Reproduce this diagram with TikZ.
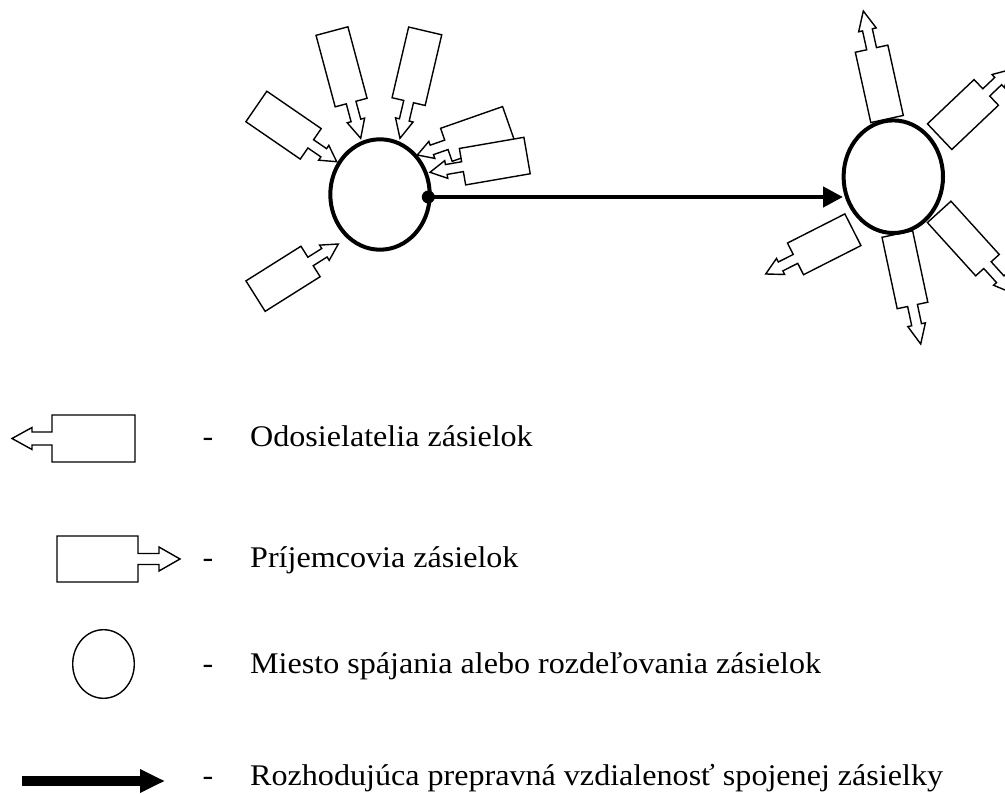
\documentclass[tikz,border=0pt]{standalone}
\usepackage{fontspec}
\setmainfont[FakeStretch=1.07]{Liberation Serif}
\usetikzlibrary{shapes.geometric,arrows.meta}

\tikzset{
  parcel/.style={draw=black, fill=white, line width=1.4pt, line join=miter},
  hub/.style={draw=black, fill=white, ellipse, inner sep=0pt, line width=4pt},
  legendhub/.style={draw=black, fill=white, ellipse, inner sep=0pt, line width=1.4pt},
  flow/.style={line width=4.5pt, -{Triangle[length=20pt,width=20pt]}},
  legendflow/.style={line width=10pt, -{Triangle[length=25pt,width=22pt]}},
  itemtext/.style={font=\fontsize{30}{36}\selectfont, anchor=base west, inner sep=0pt},
  hyphenmark/.style={font=\fontsize{30}{36}\selectfont, anchor=base, inner sep=0pt}
}

% \parcel{tip x}{tip y}{angle}{stub length}{box length}{box width}{head half-width}{shaft half-width}
\newcommand\parcel[8]{%
  \begin{scope}[shift={(#1,#2)}, rotate=#3]
    \draw[parcel] (0,0) -- (-#4/2,#7) -- (-#4/2,#8) -- (-#4,#8) -- (-#4,#6/2)
      -- (-#4-#5,#6/2) -- (-#4-#5,-#6/2) -- (-#4,-#6/2) -- (-#4,-#8)
      -- (-#4/2,-#8) -- (-#4/2,-#7) -- cycle;
  \end{scope}}

\begin{document}
\begin{tikzpicture}[x=1pt, y=-1pt]
  \useasboundingbox (0,0) rectangle (1005,794);
  \clip (0,0) rectangle (1005,794);

  % incoming parcels around the collecting hub
  \parcel{336.7}{161.7}{-34.5}{31.5}{66}{37}{9}{5}
  \parcel{360.7}{138.3}{-75}{37}{74}{33}{9}{5}
  \parcel{400}{138.3}{-103.2}{37.7}{72.6}{34}{9}{5}
  \parcel{417.3}{155}{-160.7}{30.8}{65.7}{35}{9}{5}
  \parcel{430}{172.3}{-170.2}{33}{65.5}{37}{9}{5}
  \parcel{338.3}{244}{32.2}{32.8}{65}{36}{9}{5}

  % outgoing parcels around the distributing hub
  \parcel{863.3}{11}{102.4}{38.6}{72}{33.3}{9}{5}
  \parcel{1010.2}{69.7}{43.5}{33}{64.3}{35.4}{9}{5}
  \parcel{765.7}{274}{-153.1}{33.4}{64.4}{35.5}{9}{5}
  \parcel{920.7}{344}{-78}{39.4}{73}{31.3}{9}{5}
  \parcel{1013}{293.3}{-47.8}{38}{71.9}{31.8}{9}{5}

  % the two hubs and the decisive transport distance
  \node[hub, minimum width=99.4pt, minimum height=110.4pt] (lhub) at (380,194.5) {};
  \node[hub, minimum width=99.4pt, minimum height=112.6pt] (rhub) at (893.3,176.7) {};
  \node[circle, fill=black, inner sep=0pt, minimum size=13pt] (dot) at (428.3,197) {};
  \coordinate (aend) at (843,197);
  \draw[flow] (dot.center) -- (aend);

  % legend
  \parcel{12}{438.5}{180}{40}{83}{47}{11}{6.5}
  \parcel{180}{559}{0}{42}{81}{46}{12}{5.5}
  \node[legendhub, minimum width=61.6pt, minimum height=68.6pt] (lghub) at (103.5,664) {};
  \coordinate (la) at (22,781);
  \coordinate (lb) at (165,781);
  \draw[legendflow] (la) -- (lb);

  \node[hyphenmark] (d1) at (208,447) {-};
  \node[hyphenmark] (d2) at (208,567) {-};
  \node[hyphenmark] (d3) at (208,673) {-};
  \node[hyphenmark] (d4) at (208,785) {-};
  \node[itemtext] (t1) at (250,447) {Odosielatelia zásielok};
  \node[itemtext] (t2) at (250,567) {Príjemcovia zásielok};
  \node[itemtext] (t3) at (250,673) {Miesto spájania alebo rozdeľovania zásielok};
  \node[itemtext] (t4) at (250,785) {Rozhodujúca prepravná vzdialenosť spojenej zásielky};
\end{tikzpicture}
\end{document}
